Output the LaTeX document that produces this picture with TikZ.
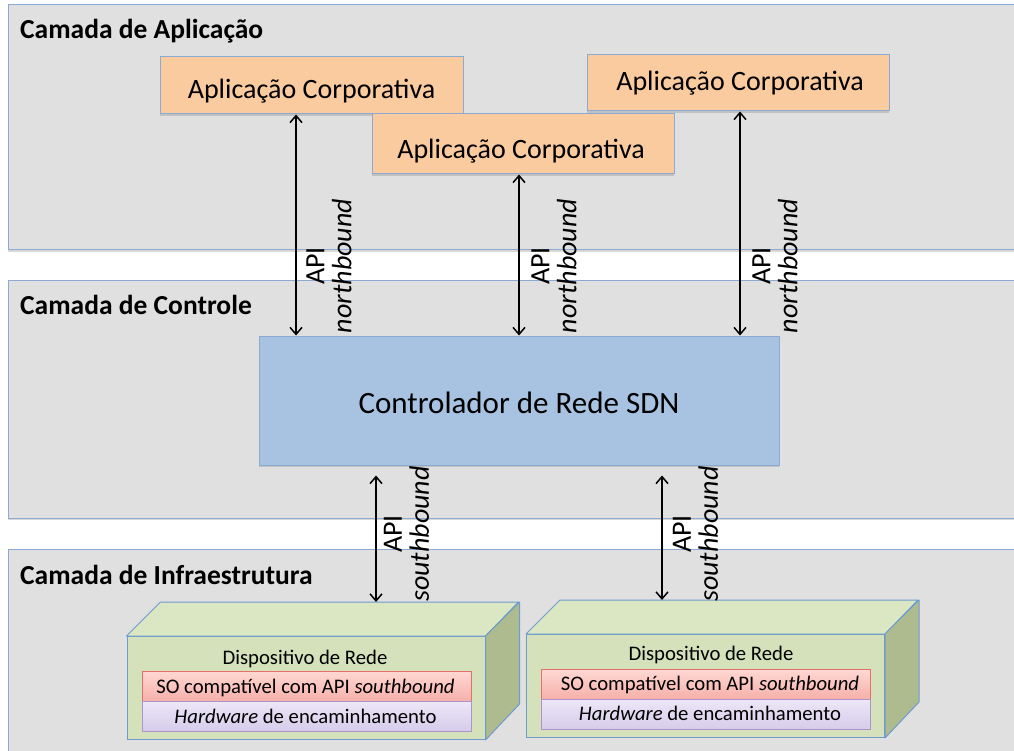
\documentclass[tikz,border=0pt]{standalone}
\usepackage{fontspec}
\setmainfont{Carlito}
\usetikzlibrary{arrows.meta,shadows}

\definecolor{layerfill}{RGB}{224,224,224}
\definecolor{layerline}{RGB}{138,170,212}
\definecolor{appfill}{RGB}{251,203,160}
\definecolor{ctrlfill}{RGB}{167,195,225}
\definecolor{devfront}{RGB}{213,225,186}
\definecolor{devtop}{RGB}{219,231,195}
\definecolor{devside}{RGB}{174,187,143}
\definecolor{devline}{RGB}{110,155,205}
\definecolor{osline}{RGB}{228,112,106}
\definecolor{ostop}{RGB}{255,216,211}
\definecolor{osbot}{RGB}{246,176,170}
\definecolor{hwline}{RGB}{172,148,204}
\definecolor{hwtop}{RGB}{237,231,247}
\definecolor{hwbot}{RGB}{214,204,235}

\begin{document}
\begin{tikzpicture}[x=1pt,y=-1pt,
  softshadow/.style={drop shadow={shadow xshift=0pt,shadow yshift=-2pt,opacity=0.25,fill=black!60}},
  layer/.style={draw=layerline,fill=layerfill,line width=1pt,softshadow},
  layertitle/.style={anchor=base west,inner sep=0pt,font=\fontsize{27.5}{30}\selectfont\bfseries},
  appbox/.style={draw=layerline,fill=appfill,line width=1pt,inner sep=0pt,softshadow},
  apptext/.style={anchor=base,inner sep=0pt,font=\fontsize{28}{31}\selectfont},
  ctrlbox/.style={draw=layerline,fill=ctrlfill,line width=1pt,inner sep=0pt,softshadow,
    minimum width=520pt,minimum height=129pt},
  devbox/.style={draw=devline,fill=devfront,line width=1pt,inner sep=0pt,
    minimum width=358pt,minimum height=103pt},
  devface/.style={draw=devline,line width=1pt,line join=round},
  devtext/.style={anchor=base,inner sep=0pt,font=\fontsize{20.7}{23}\selectfont},
  osbox/.style={draw=osline,top color=ostop,bottom color=osbot,line width=1pt,inner sep=0pt,
    minimum width=329pt,minimum height=30pt},
  hwbox/.style={draw=hwline,top color=hwtop,bottom color=hwbot,line width=1pt,inner sep=0pt,
    minimum width=329pt,minimum height=30pt},
  biarrow/.style={line width=1.5pt,{Straight Barb[length=7pt,width=12pt]}-{Straight Barb[length=7pt,width=12pt]}},
  apilabel/.style={rotate=90,align=center,inner sep=0pt,font=\fontsize{28}{27}\selectfont}]

\useasboundingbox (0,0) rectangle (1014,751);
\clip (0,0) rectangle (1014,751);
\fill[white] (0,0) rectangle (1014,751);

% the three layers
\draw[layer] (8,5) rectangle (1030,250);
\draw[layer] (8,280) rectangle (1030,518);
\draw[layer] (8,549) rectangle (1030,770);
\node[layertitle] (t1) at (20,39) {Camada de Aplicação};
\node[layertitle] (t2) at (20,314) {Camada de Controle};
\node[layertitle] (t3) at (20,584) {Camada de Infraestrutura};

% applications
\node[appbox,minimum width=303pt,minimum height=57pt] (appA) at (311.5,85.5) {};
\node[apptext] (appAt) at (311.5,99) {Aplicação Corporativa};
\node[appbox,minimum width=302pt,minimum height=60pt] (appB) at (523,144) {};
\node[apptext] (appBt) at (521,159) {Aplicação Corporativa};
\node[appbox,minimum width=302pt,minimum height=56pt] (appC) at (738,83) {};
\node[apptext] (appCt) at (740,91) {Aplicação Corporativa};

% controller
\node[ctrlbox] (ctrl) at (519,400.5) {};
\node[apptext,font=\fontsize{31}{34}\selectfont] (ctrlt) at (519,413) {Controlador de Rede SDN};

% network devices (front face as node, top and side faces drawn around it)
\node[devbox] (dev1) at (306,688) {};
\filldraw[devface,fill=devtop] (dev1.north west) -- ++(34,-34) -- ++(358,0) -- (dev1.north east) -- cycle;
\filldraw[devface,fill=devside] (dev1.north east) -- ++(34,-34) -- ++(0,102) -- (dev1.south east) -- cycle;
\coordinate (dev1back) at ([yshift=34pt]dev1.north);
\node[devtext] (dev1t) at (305,664) {Dispositivo de Rede};
\node[osbox] (os1) at (306.5,686) {};
\node[devtext] (os1t) at (305.5,693) {SO compatível com API \textit{southbound}};
\node[hwbox] (hw1) at (306.5,716) {};
\node[devtext] (hw1t) at (305.5,723) {\textit{Hardware} de encaminhamento};

\node[devbox] (dev2) at (705.5,686) {};
\filldraw[devface,fill=devtop] (dev2.north west) -- ++(34,-34) -- ++(358,0) -- (dev2.north east) -- cycle;
\filldraw[devface,fill=devside] (dev2.north east) -- ++(34,-34) -- ++(0,102) -- (dev2.south east) -- cycle;
\coordinate (dev2back) at ([yshift=34pt]dev2.north);
\node[devtext] (dev2t) at (711,660) {Dispositivo de Rede};
\node[osbox] (os2) at (705.5,684) {};
\node[devtext] (os2t) at (710,690) {SO compatível com API \textit{southbound}};
\node[hwbox] (hw2) at (705.5,714) {};
\node[devtext] (hw2t) at (710,720) {\textit{Hardware} de encaminhamento};

% northbound interfaces
\coordinate (nA) at (296,0);
\coordinate (nB) at (519,0);
\coordinate (nC) at (740,0);
\draw[biarrow] (nA |- appA.south) -- (nA |- ctrl.north);
\draw[biarrow] (nB |- appB.south) -- (nB |- ctrl.north);
\draw[biarrow] (nC |- appC.south) -- (nC |- ctrl.north);
\node[apilabel] (lA) at (329,266) {API\\\textit{northbound}};
\node[apilabel] (lB) at (554,266) {API\\\textit{northbound}};
\node[apilabel] (lC) at (775,266) {API\\\textit{northbound}};

% southbound interfaces
\coordinate (sA) at (376,0);
\coordinate (sB) at (662,0);
\draw[biarrow,shorten <=10pt] (sA |- ctrl.south) -- (sA |- dev1back);
\draw[biarrow,shorten <=10pt] (sB |- ctrl.south) -- (sB |- dev2back);
\node[apilabel] (lS1) at (406.5,534) {API\\\textit{southbound}};
\node[apilabel] (lS2) at (695.5,534) {API\\\textit{southbound}};
\end{tikzpicture}
\end{document}
